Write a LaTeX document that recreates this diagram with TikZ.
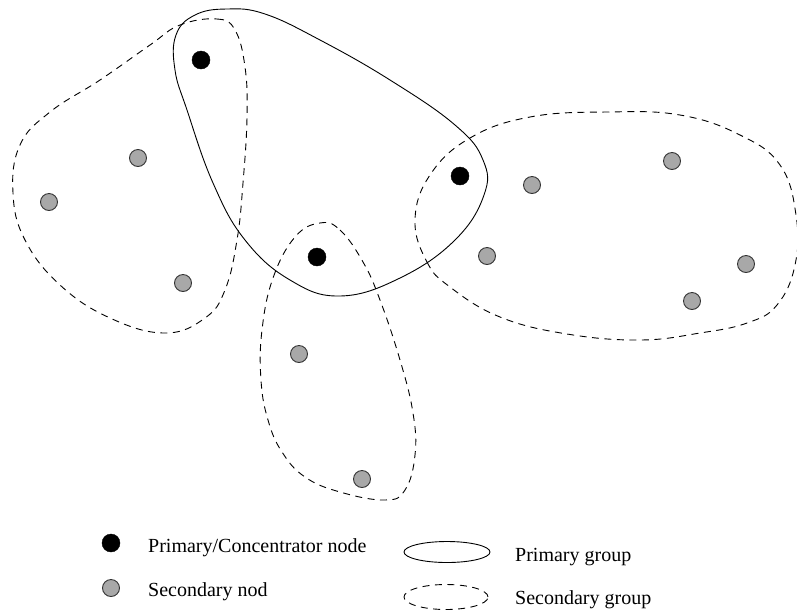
\documentclass[tikz,border=0pt]{standalone}
\usepackage{fontspec}
\setmainfont{Liberation Serif}
\usepackage{tikz}
\usetikzlibrary{shapes.geometric}
\tikzstyle{primary}=[draw,fill=black,circle,minimum size=18pt,inner sep=0pt]
\tikzstyle{secondary}=[draw=mydark,fill=mygray,circle,minimum size=17pt,inner sep=0pt,line width=0.9pt]
\tikzstyle{pgroup}=[line width=0.9pt]
\tikzstyle{sgroup}=[line width=0.9pt,dash pattern=on 7pt off 5.5pt]
\tikzstyle{legend}=[anchor=base west,inner sep=0pt,font=\fontsize{20}{24}\selectfont]
\definecolor{mygray}{RGB}{168,168,168}
\definecolor{mydark}{RGB}{51,51,51}

\begin{document}
\begin{tikzpicture}[x=1pt,y=-1pt]
\useasboundingbox (0,0) rectangle (797,614);
% primary group
\draw[pgroup] plot[smooth cycle,tension=0.7] coordinates {(227,9) (195,15) (176,35) (175,70) (187,110) (213,183) (245,240) (290,280) (340,296) (400,278) (455,240) (484,195) (483,160) (455,125) (390,80) (320,40) (265,14)};
% secondary groups
\draw[sgroup] plot[smooth cycle,tension=0.7] coordinates {(180,25) (217,19) (235,30) (245,67) (247,117) (243,183) (237,240) (225,290) (205,318) (165,333) (110,318) (60,285) (25,240) (13,193) (20,145) (50,112) (100,80) (150,45)};
\draw[sgroup] plot[smooth cycle,tension=0.7] coordinates {(320,223) (340,230) (363,262) (380,300) (400,360) (413,413) (415,455) (405,490) (385,500) (340,492) (305,477) (282,452) (268,420) (261,380) (262,330) (273,278) (295,237)};
\draw[sgroup] plot[smooth cycle,tension=0.7] coordinates {(415,220) (427,262) (450,287) (500,317) (567,334) (640,340) (700,333) (747,323) (777,305) (795,265) (796,215) (780,165) (740,135) (680,115) (607,112) (530,117) (470,138) (430,175)};
% nodes
\draw (201,60) node [primary] (p1) {};
\draw (460,176) node [primary] (p2) {};
\draw (317,257) node [primary] (p3) {};
\draw (138,158) node [secondary] (s1) {};
\draw (49,202) node [secondary] (s2) {};
\draw (183,283) node [secondary] (s3) {};
\draw (532,185) node [secondary] (s4) {};
\draw (672,161) node [secondary] (s5) {};
\draw (487,256) node [secondary] (s6) {};
\draw (746,264) node [secondary] (s7) {};
\draw (692,301) node [secondary] (s8) {};
\draw (299,354) node [secondary] (s9) {};
\draw (362,479) node [secondary] (s10) {};
% legend
\draw (111,543) node [primary] (lp) {};
\draw (148,552) node [legend] (lptext) {Primary/Concentrator node};
\draw (111,588) node [secondary] (ls) {};
\draw (148,596) node [legend] (lstext) {Secondary nod};
\draw (447,552) node [pgroup,draw,ellipse,minimum width=86pt,minimum height=21pt,inner sep=0pt] (lpg) {};
\draw (515,561) node [legend] (lpgtext) {Primary group};
\draw (446,597) node [sgroup,draw,ellipse,minimum width=84pt,minimum height=25pt,inner sep=0pt] (lsg) {};
\draw (515,604) node [legend] (lsgtext) {Secondary group};
\end{tikzpicture}
\end{document}
